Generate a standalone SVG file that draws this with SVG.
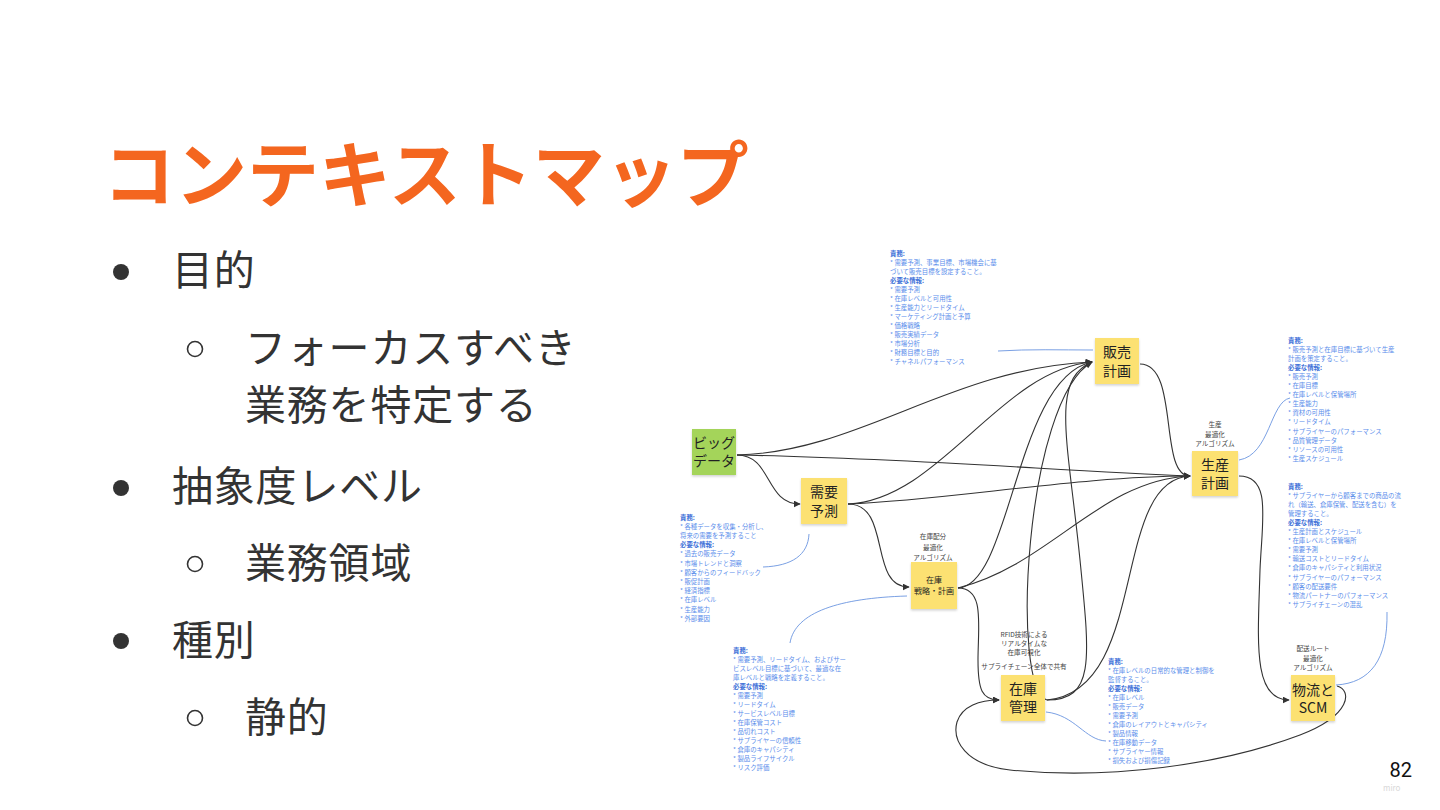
<svg xmlns="http://www.w3.org/2000/svg" width="1440" height="810" viewBox="0 0 1440 810">
<defs>
<marker id="ah" viewBox="0 0 10 10" refX="9" refY="5" markerWidth="7" markerHeight="7" orient="auto" markerUnits="userSpaceOnUse"><path d="M0,0 L10,5 L0,10 z" fill="#333"/></marker>
<filter id="sh" x="-20%" y="-20%" width="140%" height="150%"><feDropShadow dx="0" dy="1.5" stdDeviation="1.2" flood-color="#000" flood-opacity="0.18"/></filter>
</defs>
<style>
.t{font-family:"Noto Sans CJK JP","Noto Sans",sans-serif;}
.title{font-size:72px;font-weight:bold;fill:#F4661F;}
.body{font-size:41px;fill:#333;letter-spacing:0.8px;}
.note{font-size:14px;fill:#222;text-anchor:middle;}
.sm{font-size:8px;fill:#222;text-anchor:middle;}
.lab{font-size:6.6px;fill:#444;text-anchor:middle;}
.ann{font-size:6.4px;fill:#5A8DEB;}
.hd{font-weight:bold;fill:#3D6FD8;}
.y{fill:#FCE172;filter:url(#sh);}
.g{fill:#A4D45A;filter:url(#sh);}
.ca{fill:none;stroke:#333;stroke-width:1.1;marker-end:url(#ah);}
.b{fill:none;stroke:#6B95E0;stroke-width:0.9;}
</style>
<rect width="1440" height="810" fill="#fff"/>
<text class="t title" x="103" y="201">コンテキストマップ</text>
<g id="bullets">
<circle cx="121" cy="272" r="8" fill="#333"/>
<circle cx="195" cy="349" r="7.5" fill="none" stroke="#333" stroke-width="1.6"/>
<circle cx="121" cy="488" r="8" fill="#333"/>
<circle cx="195" cy="564" r="7.5" fill="none" stroke="#333" stroke-width="1.6"/>
<circle cx="121" cy="641" r="8" fill="#333"/>
<circle cx="195" cy="718" r="7.5" fill="none" stroke="#333" stroke-width="1.6"/>
<text class="t body" x="172" y="285">目的</text>
<text class="t body" x="245" y="363">フォーカスすべき</text>
<text class="t body" x="245" y="420">業務を特定する</text>
<text class="t body" x="172" y="501">抽象度レベル</text>
<text class="t body" x="245" y="578">業務領域</text>
<text class="t body" x="172" y="655">種別</text>
<text class="t body" x="245" y="732">静的</text>
</g>
<g id="connectors">
<path class="ca" d="M737,455 C772,455 765,504 800,504"/>
<path class="ca" d="M737,455 C860,452 950,368 1092,362"/>
<path class="ca" d="M737,455 C900,458 1050,470 1190,476"/>
<path class="ca" d="M848,504 C940,500 1000,370 1092,362"/>
<path class="ca" d="M848,504 C950,500 1080,476 1190,476"/>
<path class="ca" d="M848,504 C892,504 868,587 909,587"/>
<path class="ca" d="M958,588 C1012,585 1015,378 1092,362"/>
<path class="ca" d="M958,588 C1050,565 1100,480 1190,476"/>
<path class="ca" d="M958,588 C985,588 978,625 978,660 C978,690 982,700 999,700"/>
<path class="ca" d="M1047,700 C1095,700 1090,660 1080,560 C1068,440 1050,380 1092,362"/>
<path class="ca" d="M1047,700 C1010,690 1025,400 1092,362"/>
<path class="ca" d="M1047,700 C1150,690 1110,480 1190,476"/>
<path class="ca" d="M1140,364 C1180,364 1158,476 1190,476"/>
<path class="ca" d="M1239,476 C1272,476 1262,520 1260,570 C1258,640 1252,700 1289,700"/>
<path class="ca" d="M1337,686 C1352,690 1352,715 1300,735 C1220,765 1110,780 1010,770 C965,765 952,740 957,722 C962,706 980,700 999,700"/>
<path class="b" d="M998,351 C1030,349 1060,350 1093,350"/>
<path class="b" d="M1239,460 C1270,455 1270,402 1290,398"/>
<path class="b" d="M1387,612 C1388,660 1370,683 1336,685"/>
<path class="b" d="M809,534 C808,555 792,566 763,567"/>
<path class="b" d="M907,596 C840,598 795,612 790,643"/>
<path class="b" d="M1046,712 C1075,715 1085,740 1106,741"/>
</g>
<g id="n-bigdata"><rect class="g" x="692" y="429" width="44" height="46"/><text class="t note" font-size="13" x="714" y="448">ビッグ</text><text class="t note" font-size="13" x="714" y="466">データ</text></g>
<g id="n-juyo"><rect class="y" x="801" y="478" width="46" height="46"/><text class="t note" x="824" y="497">需要</text><text class="t note" x="824" y="516">予測</text></g>
<g id="n-zaiko-senryaku"><rect class="y" x="911" y="562" width="46" height="47"/><text class="t sm" x="934" y="583">在庫</text><text class="t sm" x="934" y="594">戦略・計画</text></g>
<g id="n-hanbai"><rect class="y" x="1095" y="338" width="44" height="46"/><text class="t note" x="1117" y="357">販売</text><text class="t note" x="1117" y="376">計画</text></g>
<g id="n-seisan"><rect class="y" x="1192" y="451" width="46" height="45"/><text class="t note" x="1215" y="470">生産</text><text class="t note" x="1215" y="488">計画</text></g>
<g id="n-zaiko-kanri"><rect class="y" x="1001" y="675" width="44" height="46"/><text class="t note" x="1023" y="694">在庫</text><text class="t note" x="1023" y="712">管理</text></g>
<g id="n-butsuryu"><rect class="y" x="1291" y="675" width="44" height="46"/><text class="t note" font-size="13" x="1313" y="695">物流と</text><text class="t note" font-size="13" x="1313" y="713">SCM</text></g>
<g id="labels">
<text class="t lab" x="933" y="539">在庫配分</text>
<text class="t lab" x="933" y="550">最適化</text>
<text class="t lab" x="933" y="560">アルゴリズム</text>
<text class="t lab" x="1215" y="427">生産</text>
<text class="t lab" x="1215" y="437">最適化</text>
<text class="t lab" x="1215" y="446">アルゴリズム</text>
<text class="t lab" x="1024" y="637">RFID技術による</text>
<text class="t lab" x="1024" y="646">リアルタイムな</text>
<text class="t lab" x="1024" y="655">在庫可視化</text>
<text class="t lab" x="1024" y="669">サプライチェーン全体で共有</text>
<text class="t lab" x="1313" y="651">配送ルート</text>
<text class="t lab" x="1313" y="661">最適化</text>
<text class="t lab" x="1313" y="670">アルゴリズム</text>
</g>
<g id="ann-hanbai"><text class="t ann" x="890" y="255.5"><tspan class="hd">責務:</tspan><tspan x="890" dy="9.05">* 需要予測、事業目標、市場機会に基</tspan><tspan x="890" dy="9.05">づいて販売目標を設定すること。</tspan><tspan x="890" dy="9.05" class="hd">必要な情報:</tspan><tspan x="890" dy="9.05">* 需要予測</tspan><tspan x="890" dy="9.05">* 在庫レベルと可用性</tspan><tspan x="890" dy="9.05">* 生産能力とリードタイム</tspan><tspan x="890" dy="9.05">* マーケティング計画と予算</tspan><tspan x="890" dy="9.05">* 価格戦略</tspan><tspan x="890" dy="9.05">* 販売実績データ</tspan><tspan x="890" dy="9.05">* 市場分析</tspan><tspan x="890" dy="9.05">* 財務目標と目的</tspan><tspan x="890" dy="9.05">* チャネルパフォーマンス</tspan></text></g>
<g id="ann-seisan"><text class="t ann" x="1288" y="342.5"><tspan class="hd">責務:</tspan><tspan x="1288" dy="9.1">* 販売予測と在庫目標に基づいて生産</tspan><tspan x="1288" dy="9.1">計画を策定すること。</tspan><tspan x="1288" dy="9.1" class="hd">必要な情報:</tspan><tspan x="1288" dy="9.1">* 販売予測</tspan><tspan x="1288" dy="9.1">* 在庫目標</tspan><tspan x="1288" dy="9.1">* 在庫レベルと保管場所</tspan><tspan x="1288" dy="9.1">* 生産能力</tspan><tspan x="1288" dy="9.1">* 資材の可用性</tspan><tspan x="1288" dy="9.1">* リードタイム</tspan><tspan x="1288" dy="9.1">* サプライヤーのパフォーマンス</tspan><tspan x="1288" dy="9.1">* 品質管理データ</tspan><tspan x="1288" dy="9.1">* リソースの可用性</tspan><tspan x="1288" dy="9.1">* 生産スケジュール</tspan></text></g>
<g id="ann-butsuryu"><text class="t ann" x="1288" y="488.5"><tspan class="hd">責務:</tspan><tspan x="1288" dy="9.1">* サプライヤーから顧客までの商品の流</tspan><tspan x="1288" dy="9.1">れ（輸送、倉庫保管、配送を含む）を</tspan><tspan x="1288" dy="9.1">管理すること。</tspan><tspan x="1288" dy="9.1" class="hd">必要な情報:</tspan><tspan x="1288" dy="9.1">* 生産計画とスケジュール</tspan><tspan x="1288" dy="9.1">* 在庫レベルと保管場所</tspan><tspan x="1288" dy="9.1">* 需要予測</tspan><tspan x="1288" dy="9.1">* 輸送コストとリードタイム</tspan><tspan x="1288" dy="9.1">* 倉庫のキャパシティと利用状況</tspan><tspan x="1288" dy="9.1">* サプライヤーのパフォーマンス</tspan><tspan x="1288" dy="9.1">* 顧客の配送要件</tspan><tspan x="1288" dy="9.1">* 物流パートナーのパフォーマンス</tspan><tspan x="1288" dy="9.1">* サプライチェーンの混乱</tspan></text></g>
<g id="ann-juyo"><text class="t ann" x="680" y="519.5"><tspan class="hd">責務:</tspan><tspan x="680" dy="9.2">* 各種データを収集・分析し、</tspan><tspan x="680" dy="9.2">将来の需要を予測すること</tspan><tspan x="680" dy="9.2" class="hd">必要な情報:</tspan><tspan x="680" dy="9.2">* 過去の販売データ</tspan><tspan x="680" dy="9.2">* 市場トレンドと洞察</tspan><tspan x="680" dy="9.2">* 顧客からのフィードバック</tspan><tspan x="680" dy="9.2">* 販促計画</tspan><tspan x="680" dy="9.2">* 経済指標</tspan><tspan x="680" dy="9.2">* 在庫レベル</tspan><tspan x="680" dy="9.2">* 生産能力</tspan><tspan x="680" dy="9.2">* 外部要因</tspan></text></g>
<g id="ann-zaiko-senryaku"><text class="t ann" x="733" y="652.5"><tspan class="hd">責務:</tspan><tspan x="733" dy="9">* 需要予測、リードタイム、およびサー</tspan><tspan x="733" dy="9">ビスレベル目標に基づいて、最適な在</tspan><tspan x="733" dy="9">庫レベルと戦略を定義すること。</tspan><tspan x="733" dy="9" class="hd">必要な情報:</tspan><tspan x="733" dy="9">* 需要予測</tspan><tspan x="733" dy="9">* リードタイム</tspan><tspan x="733" dy="9">* サービスレベル目標</tspan><tspan x="733" dy="9">* 在庫保管コスト</tspan><tspan x="733" dy="9">* 品切れコスト</tspan><tspan x="733" dy="9">* サプライヤーの信頼性</tspan><tspan x="733" dy="9">* 倉庫のキャパシティ</tspan><tspan x="733" dy="9">* 製品ライフサイクル</tspan><tspan x="733" dy="9">* リスク評価</tspan></text></g>
<g id="ann-zaiko-kanri"><text class="t ann" x="1108" y="663.5"><tspan class="hd">責務:</tspan><tspan x="1108" dy="9">* 在庫レベルの日常的な管理と制御を</tspan><tspan x="1108" dy="9">監督すること。</tspan><tspan x="1108" dy="9" class="hd">必要な情報:</tspan><tspan x="1108" dy="9">* 在庫レベル</tspan><tspan x="1108" dy="9">* 販売データ</tspan><tspan x="1108" dy="9">* 需要予測</tspan><tspan x="1108" dy="9">* 倉庫のレイアウトとキャパシティ</tspan><tspan x="1108" dy="9">* 製品情報</tspan><tspan x="1108" dy="9">* 在庫移動データ</tspan><tspan x="1108" dy="9">* サプライヤー情報</tspan><tspan x="1108" dy="9">* 損失および損傷記録</tspan></text></g>
<text class="t" x="1383" y="791" font-size="8" fill="#d8d8d8">miro</text>
<text x="1412" y="777" font-family="Roboto, 'Liberation Sans', sans-serif" font-size="20" fill="#111" text-anchor="end">82</text>
</svg>
